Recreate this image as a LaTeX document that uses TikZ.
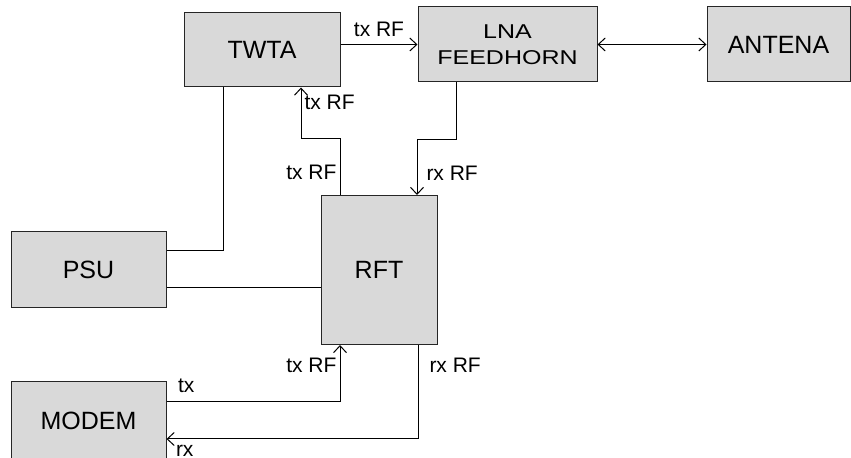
\documentclass[tikz,border=0pt]{standalone}
\usepackage{fontspec}
\setmainfont{Liberation Sans}
\usetikzlibrary{positioning, arrows.meta}

\begin{document}
\begin{tikzpicture}[x=1pt, y=1pt, on grid, line width=0.5pt,
   >={Straight Barb[length=3.5pt,width=6.5pt]},
   blok/.style={draw=black!85, fill=black!15, align=center, inner sep=0pt,
     font=\fontsize{12.5}{14}\selectfont},
   lbl/.style={font=\fontsize{10.5}{12}\selectfont, inner sep=1.5pt}]
   \useasboundingbox (0,0) rectangle (425.5,-229);

   \node[blok, minimum width=78pt, minimum height=37pt] (twta) at (131,-25) {TWTA};
   \node[blok, minimum width=89.5pt, minimum height=37.5pt] (lna) [right=122.75pt of twta, yshift=2.75pt]
      {\scalebox{1}[0.8]{LNA}\\[-1pt]\scalebox{1}[0.8]{FEEDHORN}};
   \node[blok, minimum width=71.5pt, minimum height=37.5pt] (antena) [right=135.5pt of lna] {ANTENA};
   \node[blok, minimum width=77.5pt, minimum height=38pt] (psu) at (44.25,-135) {PSU};
   \node[blok, minimum width=58pt, minimum height=74.5pt] (rft) [right=145.25pt of psu] {RFT};
   \node[blok, minimum width=77.5pt, minimum height=39pt] (modem) [below=75.5pt of psu] {MODEM};

   % tx / rx paths
   \draw[->] (lna.west -| twta.east) -- node[lbl, above, yshift=2pt] {tx RF} (lna.west);
   \draw[<->] (lna) -- (antena);
   \draw[->] ([xshift=-19.5pt]rft.north) -- node[lbl, left, pos=0.4] {tx RF} ++(0,28pt)
      -| node[lbl, pos=1, anchor=north west, yshift=-2pt] {tx RF} ([xshift=19.5pt]twta.south);
   \draw[->] ([xshift=-25.75pt]lna.south) -- ++(0,-28.5pt)
      -| node[lbl, pos=0.8, right, xshift=3pt] {rx RF} ([xshift=19pt]rft.north);
   \draw[->] ([yshift=9.5pt]modem.east) -| node[lbl, pos=0, anchor=south west, xshift=4pt, yshift=3pt] {tx}
      node[lbl, pos=0.82, left] {tx RF} ([xshift=-19.5pt]rft.south);
   \draw[->] ([xshift=19.5pt]rft.south) |- node[lbl, pos=0.11, right, xshift=4pt] {rx RF}
      node[lbl, pos=1, anchor=north west, xshift=3pt, yshift=-1.5pt] {rx} ([yshift=-9pt]modem.east);

   % power lines
   \draw ([xshift=-19.5pt]twta.south) |- ([yshift=9.5pt]psu.east);
   \draw ([yshift=-9pt]psu.east) -- ([yshift=-9pt]psu.east -| rft.west);
\end{tikzpicture}
\end{document}
